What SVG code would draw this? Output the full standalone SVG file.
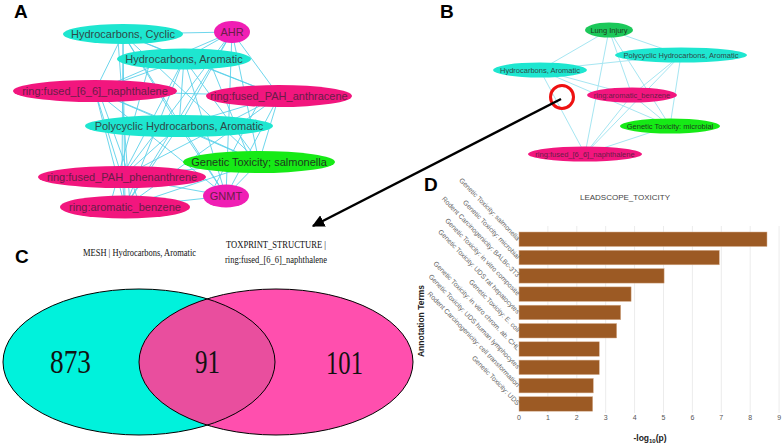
<svg xmlns="http://www.w3.org/2000/svg" width="782" height="445" viewBox="0 0 782 445">
<style>
.pl{font-family:"Liberation Sans",Arial,sans-serif;font-weight:bold;font-size:19px;fill:#000}
.ea line{stroke:#55d0ea;stroke-width:1;opacity:.85}
.eb line{stroke:#a6e6f2;stroke-width:1}
.na{font-family:"Liberation Sans",Arial,sans-serif;font-size:11px;text-anchor:middle}
.nb{font-family:"Liberation Sans",Arial,sans-serif;font-size:7.5px;text-anchor:middle}
.cy{fill:#1ee6d0}
.pk{fill:#f2167e}
.mg{fill:#f01eb4}
.gr{fill:#16ea16}
.dg{fill:#1cc85a}
.tc{fill:#2e4a48}
.tp{fill:#6a1d48}
.tg{fill:#1d3a1d}
.ser{font-family:"Liberation Serif","Times New Roman",serif;fill:#111}
.dl{font-family:"Liberation Sans",Arial,sans-serif;font-size:6.8px;fill:#666;text-anchor:end}
.tk{font-family:"Liberation Sans",Arial,sans-serif;font-size:7px;fill:#555;text-anchor:middle}
.bar{fill:#9c5a24;stroke:#d8b090;stroke-width:.5}
.grid line{stroke:#ececec;stroke-width:1}
</style>
<defs>
<marker id="ah" viewBox="0 0 10 10" refX="9" refY="5" markerWidth="5" markerHeight="5" orient="auto">
<path d="M0,0 L10,5 L0,10 z" fill="#000"/>
</marker>
<clipPath id="clipL"><ellipse cx="139" cy="362" rx="136" ry="73"/></clipPath>
</defs>

<!-- Panel labels -->
<text class="pl" x="14" y="18">A</text>
<text class="pl" x="440" y="18">B</text>
<text class="pl" x="15" y="263">C</text>
<text class="pl" x="424" y="191">D</text>

<!-- Panel A connectors -->
<g id="connectors-A" class="ea">
<line x1="123" y1="34" x2="232" y2="32"/><line x1="123" y1="34" x2="184" y2="59"/><line x1="123" y1="34" x2="95" y2="91"/><line x1="123" y1="34" x2="279" y2="96"/><line x1="123" y1="34" x2="179" y2="126"/><line x1="123" y1="34" x2="259" y2="162"/><line x1="123" y1="34" x2="122" y2="177"/><line x1="123" y1="34" x2="226" y2="196"/><line x1="123" y1="34" x2="125" y2="207"/>
<line x1="232" y1="32" x2="184" y2="59"/><line x1="232" y1="32" x2="95" y2="91"/><line x1="232" y1="32" x2="279" y2="96"/><line x1="232" y1="32" x2="179" y2="126"/><line x1="232" y1="32" x2="259" y2="162"/><line x1="232" y1="32" x2="122" y2="177"/><line x1="232" y1="32" x2="226" y2="196"/><line x1="232" y1="32" x2="125" y2="207"/>
<line x1="184" y1="59" x2="95" y2="91"/><line x1="184" y1="59" x2="279" y2="96"/><line x1="184" y1="59" x2="179" y2="126"/><line x1="184" y1="59" x2="259" y2="162"/><line x1="184" y1="59" x2="122" y2="177"/><line x1="184" y1="59" x2="226" y2="196"/><line x1="184" y1="59" x2="125" y2="207"/>
<line x1="95" y1="91" x2="279" y2="96"/><line x1="95" y1="91" x2="179" y2="126"/><line x1="95" y1="91" x2="259" y2="162"/><line x1="95" y1="91" x2="122" y2="177"/><line x1="95" y1="91" x2="226" y2="196"/><line x1="95" y1="91" x2="125" y2="207"/>
<line x1="279" y1="96" x2="179" y2="126"/><line x1="279" y1="96" x2="259" y2="162"/><line x1="279" y1="96" x2="122" y2="177"/><line x1="279" y1="96" x2="226" y2="196"/><line x1="279" y1="96" x2="125" y2="207"/>
<line x1="179" y1="126" x2="259" y2="162"/><line x1="179" y1="126" x2="122" y2="177"/><line x1="179" y1="126" x2="226" y2="196"/><line x1="179" y1="126" x2="125" y2="207"/>
<line x1="259" y1="162" x2="122" y2="177"/><line x1="259" y1="162" x2="226" y2="196"/><line x1="259" y1="162" x2="125" y2="207"/>
<line x1="122" y1="177" x2="226" y2="196"/><line x1="122" y1="177" x2="125" y2="207"/>
<line x1="226" y1="196" x2="125" y2="207"/>
<line x1="118" y1="40" x2="130" y2="205"/><line x1="150" y1="62" x2="110" y2="205"/><line x1="210" y1="62" x2="250" y2="160"/><line x1="100" y1="95" x2="140" y2="205"/><line x1="260" y1="100" x2="210" y2="195"/>
</g>

<!-- Panel A nodes -->
<g id="a-hc"><ellipse class="cy" cx="123" cy="34" rx="60" ry="10"/><text class="na tc" x="123" y="38">Hydrocarbons, Cyclic</text></g>
<g id="a-ahr"><ellipse class="mg" cx="232" cy="32" rx="18" ry="11"/><text class="na tp" x="232" y="36">AHR</text></g>
<g id="a-ha"><ellipse class="cy" cx="184" cy="59" rx="67" ry="10.5"/><text class="na tc" x="184" y="63">Hydrocarbons, Aromatic</text></g>
<g id="a-nap"><ellipse class="pk" cx="95" cy="91" rx="82" ry="11"/><text class="na tp" x="95" y="95">ring:fused_[6_6]_naphthalene</text></g>
<g id="a-ant"><ellipse class="pk" cx="279" cy="96" rx="73" ry="11"/><text class="na tp" x="279" y="100">ring:fused_PAH_anthracene</text></g>
<g id="a-pha"><ellipse class="cy" cx="179" cy="126" rx="94" ry="11"/><text class="na tc" x="179" y="130">Polycyclic Hydrocarbons, Aromatic</text></g>
<g id="a-sal"><ellipse class="gr" cx="259" cy="162" rx="76" ry="11"/><text class="na tg" x="259" y="166">Genetic Toxicity; salmonella</text></g>
<g id="a-phe"><ellipse class="pk" cx="122" cy="177" rx="84" ry="11"/><text class="na tp" x="122" y="181">ring:fused_PAH_phenanthrene</text></g>
<g id="a-gnmt"><ellipse class="mg" cx="226" cy="196" rx="23" ry="11.5"/><text class="na tp" x="226" y="200">GNMT</text></g>
<g id="a-ben"><ellipse class="pk" cx="125" cy="207" rx="65" ry="11.5"/><text class="na tp" x="125" y="211">ring:aromatic_benzene</text></g>

<!-- Panel B connectors -->
<g id="connectors-B" class="eb">
<line x1="609" y1="30" x2="681" y2="55"/><line x1="609" y1="30" x2="540" y2="70"/><line x1="609" y1="30" x2="632" y2="95"/><line x1="609" y1="30" x2="670" y2="126"/><line x1="609" y1="30" x2="585" y2="154"/>
<line x1="681" y1="55" x2="540" y2="70"/><line x1="681" y1="55" x2="632" y2="95"/><line x1="681" y1="55" x2="670" y2="126"/><line x1="681" y1="55" x2="585" y2="154"/>
<line x1="540" y1="70" x2="632" y2="95"/><line x1="540" y1="70" x2="670" y2="126"/><line x1="540" y1="70" x2="585" y2="154"/>
<line x1="632" y1="95" x2="670" y2="126"/><line x1="632" y1="95" x2="585" y2="154"/>
<line x1="670" y1="126" x2="585" y2="154"/>
</g>

<!-- Panel B nodes -->
<g id="b-lung"><ellipse class="dg" cx="609" cy="30" rx="24" ry="7.5"/><text class="nb tg" x="609" y="33">Lung Injury</text></g>
<g id="b-pha"><ellipse class="cy" cx="681" cy="55" rx="66" ry="7.5"/><text class="nb tc" x="681" y="58">Polycyclic Hydrocarbons, Aromatic</text></g>
<g id="b-ha"><ellipse class="cy" cx="540" cy="70" rx="47" ry="7.5"/><text class="nb tc" x="540" y="73">Hydrocarbons, Aromatic</text></g>
<g id="b-ben"><ellipse class="pk" cx="632" cy="95" rx="45" ry="7.5"/><text class="nb tp" x="632" y="98">ring:aromatic_benzene</text></g>
<g id="b-mic"><ellipse class="gr" cx="670" cy="126" rx="50" ry="7.5"/><text class="nb tg" x="670" y="129">Genetic Toxicity: microbial</text></g>
<g id="b-nap"><ellipse class="pk" cx="585" cy="154" rx="57" ry="7.5"/><text class="nb tp" x="585" y="157">ring:fused_[6_6]_naphthalene</text></g>

<!-- Highlight and arrow -->
<g id="highlight"><circle cx="562" cy="97" r="11.5" fill="none" stroke="#ee1111" stroke-width="3"/></g>
<g id="connector-arrow"><line x1="561" y1="99" x2="313" y2="226" stroke="#000" stroke-width="2.5" marker-end="url(#ah)"/></g>

<!-- Panel C -->
<g id="venn">
<text class="ser" x="83" y="256" font-size="9.5" textLength="113" lengthAdjust="spacingAndGlyphs">MESH | Hydrocarbons, Aromatic</text>
<text class="ser" x="226" y="248" font-size="9.5" textLength="100" lengthAdjust="spacingAndGlyphs">TOXPRINT_STRUCTURE |</text>
<text class="ser" x="225" y="263" font-size="9.5" textLength="102" lengthAdjust="spacingAndGlyphs">ring:fused_[6_6]_naphthalene</text>
<g id="venn-left"><ellipse cx="139" cy="362" rx="136" ry="73" fill="#00f2dc"/></g>
<g id="venn-right"><ellipse cx="276" cy="362" rx="137" ry="73" fill="#ff4fae"/></g>
<ellipse cx="276" cy="362" rx="137" ry="73" fill="#e94e9e" clip-path="url(#clipL)"/>
<ellipse cx="139" cy="362" rx="136" ry="73" fill="none" stroke="#000" stroke-width="1"/>
<ellipse cx="276" cy="362" rx="137" ry="73" fill="none" stroke="#000" stroke-width="1"/>
<text class="ser" x="50" y="373" font-size="33" textLength="41" lengthAdjust="spacingAndGlyphs">873</text>
<text class="ser" x="195" y="373" font-size="33" textLength="25" lengthAdjust="spacingAndGlyphs">91</text>
<text class="ser" x="326" y="374" font-size="33" textLength="37" lengthAdjust="spacingAndGlyphs">101</text>
</g>

<!-- Panel D -->
<g id="chart">
<text x="625" y="200" font-family="Liberation Sans,Arial,sans-serif" font-size="8" fill="#444" text-anchor="middle">LEADSCOPE_TOXICITY</text>
<g class="grid">
<line x1="547.9" y1="226" x2="547.9" y2="413"/><line x1="576.8" y1="226" x2="576.8" y2="413"/><line x1="605.7" y1="226" x2="605.7" y2="413"/><line x1="634.6" y1="226" x2="634.6" y2="413"/><line x1="663.5" y1="226" x2="663.5" y2="413"/><line x1="692.4" y1="226" x2="692.4" y2="413"/><line x1="721.3" y1="226" x2="721.3" y2="413"/><line x1="750.2" y1="226" x2="750.2" y2="413"/><line x1="779.1" y1="226" x2="779.1" y2="413"/>
</g>
<rect class="bar" x="519" y="232" width="248" height="14.5"/>
<rect class="bar" x="519" y="250.3" width="200.3" height="14.5"/>
<rect class="bar" x="519" y="268.6" width="145.1" height="14.5"/>
<rect class="bar" x="519" y="286.9" width="112.1" height="14.5"/>
<rect class="bar" x="519" y="305.2" width="101.7" height="14.5"/>
<rect class="bar" x="519" y="323.5" width="97.7" height="14.5"/>
<rect class="bar" x="519" y="341.8" width="80.3" height="14.5"/>
<rect class="bar" x="519" y="360.1" width="80.3" height="14.5"/>
<rect class="bar" x="519" y="378.4" width="74.3" height="14.5"/>
<rect class="bar" x="519" y="396.7" width="73.7" height="14.5"/>
<text class="dl" x="517" y="241" transform="rotate(46 517 241)">Genetic Toxicity: salmonella</text>
<text class="dl" x="517" y="259.3" transform="rotate(46 517 259.3)">Genetic Toxicity: microbial</text>
<text class="dl" x="517" y="277.6" transform="rotate(46 517 277.6)">Rodent Carcinogenicity: BALBc-3T3</text>
<text class="dl" x="517" y="295.9" transform="rotate(46 517 295.9)">Genetic Toxicity: in vitro composite</text>
<text class="dl" x="517" y="314.2" transform="rotate(46 517 314.2)">Genetic Toxicity: UDS rat hepatocytes</text>
<text class="dl" x="517" y="332.5" transform="rotate(46 517 332.5)">Genetic Toxicity: E. coli</text>
<text class="dl" x="517" y="350.8" transform="rotate(46 517 350.8)">Genetic Toxicity: in vitro chrom. ab. CHL</text>
<text class="dl" x="517" y="369.1" transform="rotate(46 517 369.1)">Genetic Toxicity: UDS human lymphocytes</text>
<text class="dl" x="517" y="387.4" transform="rotate(46 517 387.4)">Rodent Carcinogenicity: cell transformation</text>
<text class="dl" x="517" y="405.7" transform="rotate(46 517 405.7)">Genetic Toxicity: UDS</text>
<text class="tk" x="519" y="420">0</text><text class="tk" x="547.9" y="420">1</text><text class="tk" x="576.8" y="420">2</text><text class="tk" x="605.7" y="420">3</text><text class="tk" x="634.6" y="420">4</text><text class="tk" x="663.5" y="420">5</text><text class="tk" x="692.4" y="420">6</text><text class="tk" x="721.3" y="420">7</text><text class="tk" x="750.2" y="420">8</text><text class="tk" x="779.1" y="420">9</text>
<text x="650" y="441" font-family="Liberation Sans,Arial,sans-serif" font-size="8.5" font-weight="bold" fill="#222" text-anchor="middle">-log<tspan font-size="6" dy="2">10</tspan><tspan dy="-2">(p)</tspan></text>
<text x="0" y="0" transform="translate(424 321) rotate(-90)" font-family="Liberation Sans,Arial,sans-serif" font-size="8.5" font-weight="bold" fill="#222" text-anchor="middle">Annotation Terms</text>
</g>
</svg>
